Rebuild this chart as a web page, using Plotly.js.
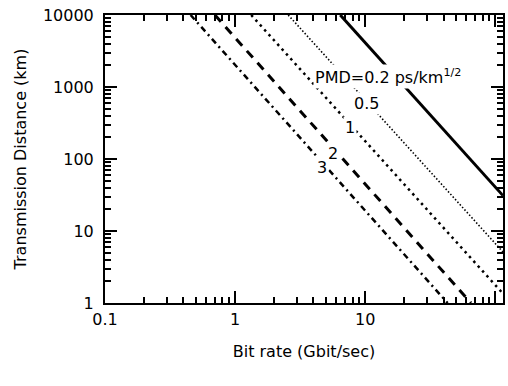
<!DOCTYPE html>
<html>
<head>
<meta charset="utf-8">
<script src="https://cdn.plot.ly/plotly-3.0.1.min.js"></script>
<style>html,body{margin:0;padding:0;background:#fff;}#chart{width:508px;height:386px;}</style>
</head>
<body>
<div id="chart"></div>
<script>
// Values (straight lines on log-log axes, read at their ends)
const pmdLabels = ['0.2', '0.5', '1', '2', '3'];
const bitRate_02 = [6.43, 114.6];
const dist_02    = [10000, 31];
const bitRate_05 = [2.56, 114.6];
const dist_05    = [10000, 5.1];
const bitRate_1  = [1.33, 114.6];
const dist_1     = [10000, 1.35];
const bitRate_2  = [0.70, 65];
const dist_2     = [10000, 1];
const bitRate_3  = [0.455, 43];
const dist_3     = [10000, 1];

const xTickVals = [0.1, 1, 10, 100];
const xTickText = ['0.1', '1', '10', '100'];
const yTickVals = [1, 10, 100, 1000, 10000];
const yTickText = ['1', '10', '100', '1000', '10000'];
const xRangeMin = 0.1, xRangeMax = 114.6;
const yRangeMin = 1, yRangeMax = 10000;

const FONT = 'DejaVu Sans, Arial, sans-serif';
const W = 508, H = 386;
const M = {l: 105, r: 5, t: 15, b: 83};
const xr = [Math.log10(xRangeMin), Math.log10(xRangeMax)];
const yr = [Math.log10(yRangeMin), Math.log10(yRangeMax)];

// minor tick positions (2..9 within each decade)
function minorVals(lo, hi) {
  const out = [];
  for (let d = Math.floor(Math.log10(lo)); d < Math.ceil(Math.log10(hi)); d++) {
    for (let k = 2; k <= 9; k++) {
      const v = k * Math.pow(10, d);
      if (v > lo && v < hi) out.push(v);
    }
  }
  return out;
}

const xs = [bitRate_02, bitRate_05, bitRate_1, bitRate_2, bitRate_3];
const ys = [dist_02, dist_05, dist_1, dist_2, dist_3];
const styles = [
  {width: 3, dash: 'solid'},
  {width: 1.6, dash: '1.5px,2px'},
  {width: 2.5, dash: '2.5px,4px'},
  {width: 3, dash: '9px,7px'},
  {width: 2.5, dash: '6px,4px,2px,4px'}
];

const traces = xs.map((x, i) => ({
  type: 'scatter', mode: 'lines', x: x, y: ys[i],
  name: pmdLabels[i],
  line: Object.assign({color: 'black'}, styles[i]),
  showlegend: false, hoverinfo: 'skip'
}));

const labelPos = [
  {x: 0.523, y: 0.785, xanchor: 'left'},
  {x: 0.658, y: 0.694, xanchor: 'center'},
  {x: 0.616, y: 0.611, xanchor: 'center'},
  {x: 0.573, y: 0.518, xanchor: 'center'},
  {x: 0.545, y: 0.472, xanchor: 'center'}
];
const labelText = ['PMD=' + pmdLabels[0] + ' ps/km<sup>1/2</sup>'].concat(pmdLabels.slice(1));

const annotations = labelPos.map((p, i) => ({
  xref: 'paper', yref: 'paper', x: p.x, y: p.y,
  xanchor: p.xanchor, yanchor: 'middle',
  text: labelText[i], showarrow: false,
  font: {family: FONT, size: 16, color: 'black'},
  bgcolor: 'white', borderpad: 1
}));

function axisBase() {
  return {
    type: 'log', showgrid: false, zeroline: false,
    showline: true, linecolor: 'black', linewidth: 2, mirror: 'allticks',
    ticks: 'inside', ticklen: 12, tickwidth: 2, tickcolor: 'black',
    tickmode: 'array',
    tickfont: {family: FONT, size: 16, color: 'black'}
  };
}

const layout = {
  width: W, height: H,
  margin: M,
  paper_bgcolor: 'white', plot_bgcolor: 'white',
  showlegend: false,
  xaxis: Object.assign(axisBase(), {
    range: xr, tickvals: xTickVals, ticktext: xTickText,
    minor: {ticks: 'inside', ticklen: 6, tickwidth: 2, tickcolor: 'black', tickmode: 'array', tickvals: minorVals(xRangeMin, xRangeMax)},
    ticklabelstandoff: 1,
    title: {text: 'Bit rate (Gbit/sec)', font: {family: FONT, size: 16, color: 'black'}, standoff: 18}
  }),
  yaxis: Object.assign(axisBase(), {
    range: yr, tickvals: yTickVals, ticktext: yTickText,
    minor: {ticks: 'inside', ticklen: 6, tickwidth: 2, tickcolor: 'black', tickmode: 'array', tickvals: minorVals(yRangeMin, yRangeMax)},
    ticklabelstandoff: 6,
    title: {text: 'Transmission Distance (km)', font: {family: FONT, size: 16, color: 'black'}, standoff: 12}
  }),
  annotations: annotations
};

Plotly.newPlot('chart', traces, layout, {displayModeBar: false});
</script>
</body>
</html>
